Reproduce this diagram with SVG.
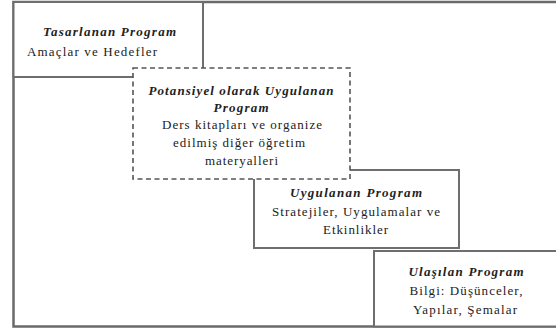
<svg xmlns="http://www.w3.org/2000/svg" width="556" height="331" viewBox="0 0 556 331">
<style>
.box{fill:#fff;stroke:#6e6e6e;stroke-width:2}
.dash{fill:#fff;stroke:#555;stroke-width:1.6;stroke-dasharray:5,3.5}
.frame{fill:none;stroke:#6a6a6a;stroke-width:2.5}
text{font-family:"Liberation Serif","Times New Roman",serif;font-size:13px;fill:#222}
.t{font-weight:bold;font-style:italic}
.c{text-anchor:middle}
</style>
<rect width="556" height="331" fill="#fff"/>
<g id="frame"><rect class="frame" x="13.5" y="2" width="560" height="324.5"/></g>
<g id="ulasilan">
<rect class="box" x="374" y="251" width="200" height="75.5"/>
<text class="t c" x="466" y="276" textLength="115" lengthAdjust="spacing">Ulaşılan Program</text>
<text class="c" x="466" y="295" textLength="113" lengthAdjust="spacing">Bilgi: Düşünceler,</text>
<text class="c" x="465" y="314" textLength="104" lengthAdjust="spacing">Yapılar, Şemalar</text>
</g>
<g id="uygulanan">
<rect class="box" x="254" y="170" width="205" height="78"/>
<text class="t c" x="356" y="197" textLength="132" lengthAdjust="spacing">Uygulanan Program</text>
<text class="c" x="356" y="216" textLength="168" lengthAdjust="spacing">Stratejiler, Uygulamalar ve</text>
<text class="c" x="355.5" y="234" textLength="65" lengthAdjust="spacing">Etkinlikler</text>
</g>
<g id="tasarlanan">
<rect class="box" x="13.5" y="2" width="189.5" height="75"/>
<text class="t" x="43" y="36" textLength="133" lengthAdjust="spacing">Tasarlanan Program</text>
<text x="27" y="56" textLength="130" lengthAdjust="spacing">Amaçlar ve Hedefler</text>
</g>
<g id="potansiyel">
<rect class="dash" x="133" y="68" width="217" height="111"/>
<text class="t c" x="241" y="95" textLength="185" lengthAdjust="spacing">Potansiyel olarak Uygulanan</text>
<text class="t c" x="241" y="112" textLength="55" lengthAdjust="spacing">Program</text>
<text class="c" x="242" y="129" textLength="160" lengthAdjust="spacing">Ders kitapları ve organize</text>
<text class="c" x="239" y="147" textLength="132" lengthAdjust="spacing">edilmiş diğer öğretim</text>
<text class="c" x="241.5" y="165" textLength="73" lengthAdjust="spacing">materyalleri</text>
</g>
</svg>
